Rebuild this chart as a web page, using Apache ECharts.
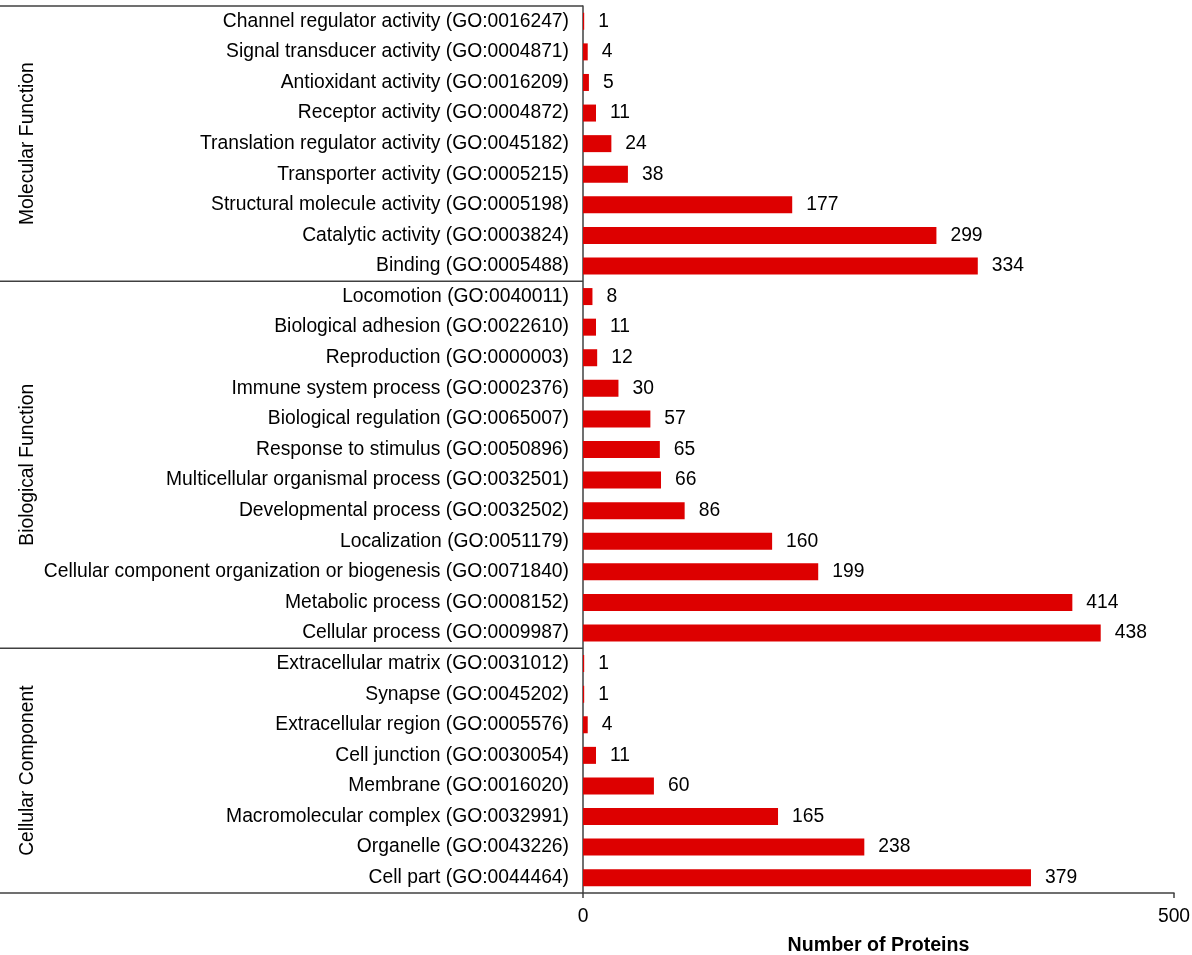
<!DOCTYPE html>
<html lang="en">
<head>
  <meta charset="utf-8">
  <title>GO classification</title>
  <script src="https://cdn.jsdelivr.net/npm/echarts@6/dist/echarts.min.js"></script>
  <style type="text/css">
    html, body { margin: 0; padding: 0; background: #fff; }
    #chart { width: 1192px; height: 955px; }
  </style>
</head>
<body>
<div id="chart"></div>
<script type="text/javascript">
// group names and their categories / counts (top to bottom)
var groupNames = ['Molecular Function', 'Biological Function', 'Cellular Component'];

var mfCategories = [
  'Channel regulator activity (GO:0016247)',
  'Signal transducer activity (GO:0004871)',
  'Antioxidant activity (GO:0016209)',
  'Receptor activity (GO:0004872)',
  'Translation regulator activity (GO:0045182)',
  'Transporter activity (GO:0005215)',
  'Structural molecule activity (GO:0005198)',
  'Catalytic activity (GO:0003824)',
  'Binding (GO:0005488)'
];
var mfValues = [1, 4, 5, 11, 24, 38, 177, 299, 334];

var bfCategories = [
  'Locomotion (GO:0040011)',
  'Biological adhesion (GO:0022610)',
  'Reproduction (GO:0000003)',
  'Immune system process (GO:0002376)',
  'Biological regulation (GO:0065007)',
  'Response to stimulus (GO:0050896)',
  'Multicellular organismal process (GO:0032501)',
  'Developmental process (GO:0032502)',
  'Localization (GO:0051179)',
  'Cellular component organization or biogenesis (GO:0071840)',
  'Metabolic process (GO:0008152)',
  'Cellular process (GO:0009987)'
];
var bfValues = [8, 11, 12, 30, 57, 65, 66, 86, 160, 199, 414, 438];

var ccCategories = [
  'Extracellular matrix (GO:0031012)',
  'Synapse (GO:0045202)',
  'Extracellular region (GO:0005576)',
  'Cell junction (GO:0030054)',
  'Membrane (GO:0016020)',
  'Macromolecular complex (GO:0032991)',
  'Organelle (GO:0043226)',
  'Cell part (GO:0044464)'
];
var ccValues = [1, 1, 4, 11, 60, 165, 238, 379];

var xTicks = [0, 500];

var categories = mfCategories.concat(bfCategories, ccCategories);
var values = mfValues.concat(bfValues, ccValues);
var groupSizes = [mfCategories.length, bfCategories.length, ccCategories.length];

var font = "'Liberation Sans', Arial, Helvetica, sans-serif";
var lineColor = '#404040';

var chart = echarts.init(document.getElementById('chart'));

var option = {
    animation: false,
    textStyle: { fontFamily: font },
    grid: { left: 583, right: 18, top: 6, bottom: 62, containLabel: false, outerBoundsMode: 'none' },
    xAxis: {
        type: 'value',
        min: xTicks[0],
        max: xTicks[xTicks.length - 1],
        interval: xTicks[1] - xTicks[0],
        name: 'Number of Proteins',
        nameLocation: 'middle',
        nameGap: 43,
        nameTextStyle: { fontSize: 19.6, fontWeight: 'bold', color: '#000', fontFamily: font },
        axisLine: { show: true, lineStyle: { color: lineColor, width: 1.5 } },
        axisTick: { show: true, length: 5, lineStyle: { color: lineColor, width: 1.5 } },
        axisLabel: { fontSize: 19.3, color: '#000', margin: 14, fontFamily: font },
        splitLine: { show: false }
    },
    yAxis: {
        type: 'category',
        inverse: true,
        data: categories,
        axisLine: { show: true, lineStyle: { color: lineColor, width: 1.5 } },
        axisTick: { show: false },
        axisLabel: { fontSize: 19.3, color: '#000', margin: 14, fontFamily: font, interval: 0 },
        splitLine: { show: false }
    },
    series: [{
        type: 'bar',
        data: values,
        barWidth: 17,
        itemStyle: { color: '#dd0000' },
        label: {
            show: true,
            position: 'right',
            distance: 14,
            fontSize: 19.3,
            color: '#000',
            fontFamily: font
        }
    }]
};

chart.setOption(option);

// group separators and rotated group names on the left
var y0 = chart.convertToPixel({ yAxisIndex: 0 }, categories[0]);
var y1 = chart.convertToPixel({ yAxisIndex: 0 }, categories[1]);
var band = y1 - y0;
var axisX = chart.convertToPixel({ xAxisIndex: 0 }, 0);

var elements = [];
var start = 0;
var bounds = [y0 - band / 2];
for (var g = 0; g < groupSizes.length; g++) {
    var end = start + groupSizes[g];
    var yEnd = chart.convertToPixel({ yAxisIndex: 0 }, categories[end - 1]) + band / 2;
    bounds.push(yEnd);
    elements.push({
        type: 'text',
        x: 28,
        y: (bounds[g] + yEnd) / 2,
        rotation: Math.PI / 2,
        style: {
            text: groupNames[g],
            fontSize: 19.3,
            fontFamily: font,
            fill: '#000',
            align: 'center',
            verticalAlign: 'middle'
        }
    });
    start = end;
}
for (var b = 0; b < bounds.length; b++) {
    elements.push({
        type: 'line',
        shape: { x1: 0, y1: bounds[b], x2: axisX, y2: bounds[b] },
        style: { stroke: lineColor, lineWidth: 1.5 }
    });
}

chart.setOption({ graphic: { elements: elements } });
</script>
</body>
</html>
